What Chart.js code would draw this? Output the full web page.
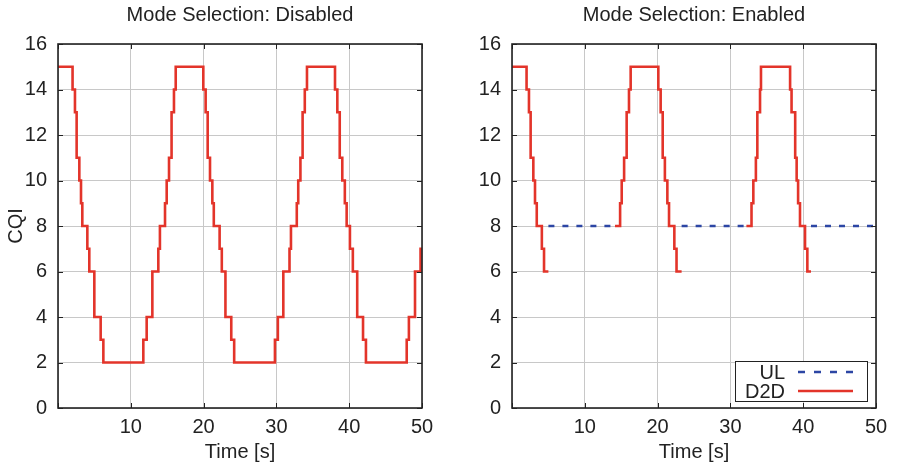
<!DOCTYPE html>
<html>
<head>
<meta charset="utf-8">
<script src="https://cdn.jsdelivr.net/npm/chart.js@4/dist/chart.umd.min.js"></script>
<style>
  body { margin: 0; background: #fff; }
  #wrap { position: relative; width: 898px; height: 466px; }
  canvas { position: absolute; top: 0; }
</style>
</head>
<body>
<div id="wrap">
  <canvas id="disabled-chart" width="449" height="466" style="left:0"></canvas>
  <canvas id="enabled-chart" width="449" height="466" style="left:449px"></canvas>
</div>
<script>
// CQI step changes: each time is where the CQI switches to the listed value
const disabledTimes = [0, 2.0, 2.33, 2.56, 2.93, 3.16, 3.34, 4.03, 4.3, 4.99, 5.86, 6.23,
    11.72, 12.18, 12.96, 13.78, 14.0, 14.7, 14.93, 15.25, 15.6, 15.93, 16.17,
    19.96, 20.28, 20.56, 20.88, 21.2, 21.4, 22.2, 22.5, 23.0, 23.8, 24.2,
    29.8, 30.2, 30.95, 31.8, 32.0, 32.8, 33.0, 33.3, 33.6, 33.9, 34.2,
    38.05, 38.37, 38.7, 39.05, 39.4, 39.65, 40.1, 40.5, 41.1, 41.9, 42.3,
    47.9, 48.2, 49.04, 49.8, 50];
const disabledCqi = [15, 14, 13, 11, 10, 9, 8, 7, 6, 4, 3, 2,
    3, 4, 6, 7, 8, 9, 10, 11, 13, 14, 15,
    14, 13, 11, 10, 9, 8, 7, 6, 4, 3, 2,
    3, 4, 6, 7, 8, 9, 10, 11, 13, 14, 15,
    14, 13, 11, 10, 9, 8, 7, 6, 4, 3, 2,
    3, 4, 6, 7, 7];

// Mode selection enabled: D2D link (null = link not used)
const d2dTimes = [0, 2.0, 2.33, 2.56, 2.93, 3.16, 3.4, 4.1, 4.4, 5.0, 9.5,
    14.15, 14.85, 15.07, 15.4, 15.75, 16.07, 16.3, 20.1, 20.42, 20.7, 21.0, 21.34, 21.57, 22.3, 22.6, 23.3, 27.5,
    32.2, 32.9, 33.15, 33.5, 33.7, 34.07, 34.2, 38.2, 38.4, 38.9, 39.1, 39.3, 39.56, 40.25, 40.57, 41.07];
const d2dCqi = [15, 14, 13, 11, 10, 9, 8, 7, 6, 6, null,
    8, 9, 10, 11, 13, 14, 15, 14, 13, 11, 10, 9, 8, 7, 6, 6, null,
    8, 9, 10, 11, 13, 14, 15, 14, 13, 11, 10, 9, 8, 7, 6, 6];

// Mode selection enabled: uplink segments
const ulTimes = [5.0, 14.15, 18.5, 23.3, 32.2, 36.5, 41.07, 50];
const ulCqi = [8, 8, null, 8, 8, null, 8, 8];

const xTicks = [10, 20, 30, 40, 50];
const yTicks = [0, 2, 4, 6, 8, 10, 12, 14, 16];

const RED = '#e3342a';
const BLUE = '#2c46a4';
const FONT = 'Liberation Sans, Arial, Helvetica, sans-serif';

const toPoints = (times, values) => times.map((t, i) => ({ x: t, y: values[i] }));

// Box around the plot with small inward ticks on all four sides
const framePlugin = {
    id: 'frame',
    afterDatasetsDraw(chart) {
        const { ctx, chartArea: a, scales } = chart;
        ctx.save();
        ctx.strokeStyle = '#222';
        ctx.lineWidth = 1;
        ctx.beginPath();
        scales.x.ticks.forEach(t => {
            const px = Math.round(scales.x.getPixelForValue(t.value)) + 0.5;
            ctx.moveTo(px, a.bottom); ctx.lineTo(px, a.bottom - 5);
            ctx.moveTo(px, a.top); ctx.lineTo(px, a.top + 5);
        });
        scales.y.ticks.forEach(t => {
            const py = Math.round(scales.y.getPixelForValue(t.value)) + 0.5;
            ctx.moveTo(a.left, py); ctx.lineTo(a.left + 5, py);
            ctx.moveTo(a.right, py); ctx.lineTo(a.right - 5, py);
        });
        ctx.stroke();
        ctx.lineWidth = 1.6;
        ctx.strokeRect(a.left, a.top, a.right - a.left, a.bottom - a.top);
        ctx.restore();
    }
};

// Legend in the lower right corner: label first, line sample after it
const cornerLegend = {
    id: 'cornerLegend',
    afterDraw(chart) {
        const { ctx, chartArea: a } = chart;
        const w = 132, h = 40;
        const left = a.right - 9 - w, top = a.bottom - 7 - h;
        ctx.save();
        ctx.fillStyle = '#fff';
        ctx.fillRect(left, top, w, h);
        ctx.strokeStyle = '#222';
        ctx.lineWidth = 1;
        ctx.strokeRect(left + 0.5, top + 0.5, w, h);
        ctx.font = '20px ' + FONT;
        ctx.textAlign = 'right';
        ctx.textBaseline = 'middle';
        chart.data.datasets.forEach((ds, i) => {
            const y = top + 11 + i * 19;
            ctx.fillStyle = '#222';
            ctx.fillText(ds.label, left + 50, y + 1);
            ctx.strokeStyle = ds.borderColor;
            ctx.lineWidth = 2.6;
            ctx.setLineDash(ds.borderDash ? [7, 9] : []);
            ctx.beginPath();
            ctx.moveTo(left + 63, y);
            ctx.lineTo(left + 118, y);
            ctx.stroke();
        });
        ctx.restore();
    }
};

function makeOptions(title, yTitle, yWidth, rightPad) {
    return {
        responsive: false,
        animation: false,
        layout: { padding: { top: 0, right: rightPad, bottom: 0, left: 0 } },
        plugins: {
            legend: { display: false },
            tooltip: { enabled: false },
            title: {
                display: true,
                fullSize: false,
                text: title,
                color: '#222',
                font: { family: FONT, size: 20, weight: 'normal' },
                padding: { top: 3, bottom: 17 }
            }
        },
        scales: {
            x: {
                type: 'linear',
                min: 0,
                max: 50,
                afterFit: s => { s.height = 58; },
                afterBuildTicks: s => { s.ticks = [0].concat(xTicks).map(v => ({ value: v })); },
                grid: { color: '#c8c8c8', lineWidth: 1, drawTicks: false },
                border: { display: false },
                ticks: {
                    color: '#222',
                    padding: 7,
                    font: { family: FONT, size: 20 },
                    maxRotation: 0,
                    autoSkip: false,
                    callback: v => (v === 0 ? '' : v)
                },
                title: {
                    display: true,
                    text: 'Time [s]',
                    color: '#222',
                    font: { family: FONT, size: 20 },
                    padding: { top: 0, bottom: 2 }
                }
            },
            y: {
                min: 0,
                max: 16,
                afterFit: s => { s.width = yWidth; },
                afterBuildTicks: s => { s.ticks = yTicks.map(v => ({ value: v })); },
                grid: { color: '#c8c8c8', lineWidth: 1, drawTicks: false },
                border: { display: false },
                ticks: {
                    color: '#222',
                    padding: 11,
                    font: { family: FONT, size: 20 }
                },
                title: {
                    display: !!yTitle,
                    text: yTitle,
                    color: '#222',
                    font: { family: FONT, size: 20 },
                    padding: { top: 4, bottom: 0 }
                }
            }
        }
    };
}

// Left: mode selection disabled
const ctxDisabled = document.getElementById('disabled-chart').getContext('2d');
const disabledChart = new Chart(ctxDisabled, {
    type: 'line',
    data: {
        datasets: [{
            label: 'D2D',
            data: toPoints(disabledTimes, disabledCqi),
            stepped: true,
            borderColor: RED,
            borderWidth: 2.6,
            pointRadius: 0,
            fill: false
        }]
    },
    options: makeOptions('Mode Selection: Disabled', 'CQI', 58, 27),
    plugins: [framePlugin]
});

// Right: mode selection enabled
const ctxEnabled = document.getElementById('enabled-chart').getContext('2d');
const enabledChart = new Chart(ctxEnabled, {
    type: 'line',
    data: {
        datasets: [{
            label: 'UL',
            data: toPoints(ulTimes, ulCqi),
            borderColor: BLUE,
            borderWidth: 2.6,
            borderDash: [6, 8],
            pointRadius: 0,
            fill: false
        }, {
            label: 'D2D',
            data: toPoints(d2dTimes, d2dCqi),
            stepped: true,
            borderColor: RED,
            borderWidth: 2.6,
            pointRadius: 0,
            fill: false
        }]
    },
    options: makeOptions('Mode Selection: Enabled', '', 63, 22),
    plugins: [framePlugin, cornerLegend]
});
</script>
</body>
</html>
